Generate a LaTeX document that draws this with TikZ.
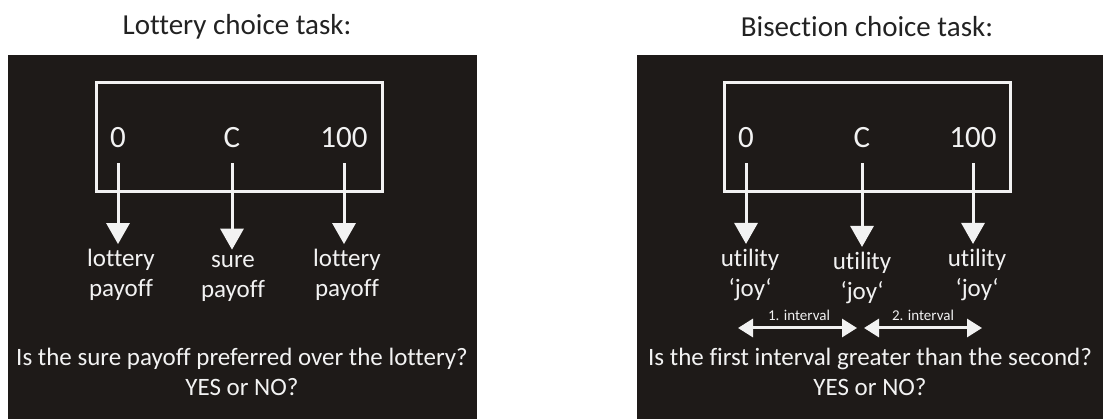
\documentclass[tikz,border=0pt]{standalone}
\usepackage{fontspec}
\setmainfont{Carlito}[Ligatures={NoCommon,NoContextual}]
\usetikzlibrary{arrows.meta, positioning}
\definecolor{panelbg}{RGB}{30,26,24}
\definecolor{paneltext}{RGB}{242,242,242}
\definecolor{titletext}{RGB}{34,34,34}

\begin{document}
\begin{tikzpicture}[
    x=1pt, y=-1pt,
    panel/.style={fill=panelbg},
    frame/.style={draw=paneltext, line width=3pt},
    title/.style={text=titletext, font=\fontsize{29}{34}\selectfont},
    value/.style={text=paneltext, font=\fontsize{31}{36}\selectfont, inner sep=0pt},
    outcome/.style={text=paneltext, align=center, font=\fontsize{25}{30}\selectfont, inner sep=0pt},
    question/.style={text=paneltext, align=center, font=\fontsize{25}{30}\selectfont, inner sep=0pt},
    arrow/.style={-{Triangle[width=23pt,length=21pt]}, draw=paneltext, line width=3pt, shorten <=15pt, shorten >=5pt},
    span/.style={{Triangle[width=18pt,length=15pt]}-{Triangle[width=18pt,length=15pt]}, draw=paneltext, line width=3pt},
    tag/.style={text=paneltext, font=\fontsize{15}{18}\selectfont, inner sep=0pt},
]
\useasboundingbox (0,0) rectangle (1103,419);

% Lottery panel
\fill[panel] (8,55) rectangle (477,419);
\node[title] (ltitle) at (237,27) {Lottery choice task:};
\draw[frame] (96,83) rectangle (382,192);
\node[value] (lzero) at (118,138) {0};
\node[value] (lcert) at (232,138) {C};
\node[value] (lhund) at (344,138) {100};
\node[outcome] (lpayA) at (121,275) {lottery\\payoff};
\node[outcome] (lpayB) at (233,278) {sure\\payoff};
\node[outcome] (lpayC) at (347,275) {lottery\\payoff};
\draw[arrow] (lzero.south) -- (lzero.south |- lpayA.north);
\draw[arrow] (lcert.south) -- (lcert.south |- lpayB.north);
\draw[arrow] (lhund.south) -- (lhund.south |- lpayC.north);
\node[question] (lask) at (242,372) {Is the sure payoff preferred over the lottery?\\YES or NO?};

% Bisection panel
\fill[panel] (637,55) rectangle (1103,419);
\node[title] (btitle) at (867,27) {Bisection choice task:};
\draw[frame] (724,83) rectangle (1010,192);
\node[value] (bzero) at (746,138) {0};
\node[value] (bcert) at (862,138) {C};
\node[value] (bhund) at (973,138) {100};
\node[outcome] (bjoyA) at (750,275) {utility\\‘joy‘};
\node[outcome] (bjoyB) at (862,278) {utility\\‘joy‘};
\node[outcome] (bjoyC) at (977,275) {utility\\‘joy‘};
\draw[arrow] (bzero.south) -- (bzero.south |- bjoyA.north);
\draw[arrow] (bcert.south) -- (bcert.south |- bjoyB.north);
\draw[arrow] (bhund.south) -- (bhund.south |- bjoyC.north);

% Intervals
\coordinate (iva) at (738,328);
\coordinate (ivb) at (857,328);
\coordinate (ivc) at (864,328);
\coordinate (ivd) at (982,328);
\draw[span] (iva) -- (ivb);
\draw[span] (ivc) -- (ivd);
\node[tag] (tagA) at (799,315) {1. interval};
\node[tag] (tagB) at (923,315) {2. interval};
\node[question] (bask) at (870,372) {Is the first interval greater than the second?\\YES or NO?};
\end{tikzpicture}
\end{document}
